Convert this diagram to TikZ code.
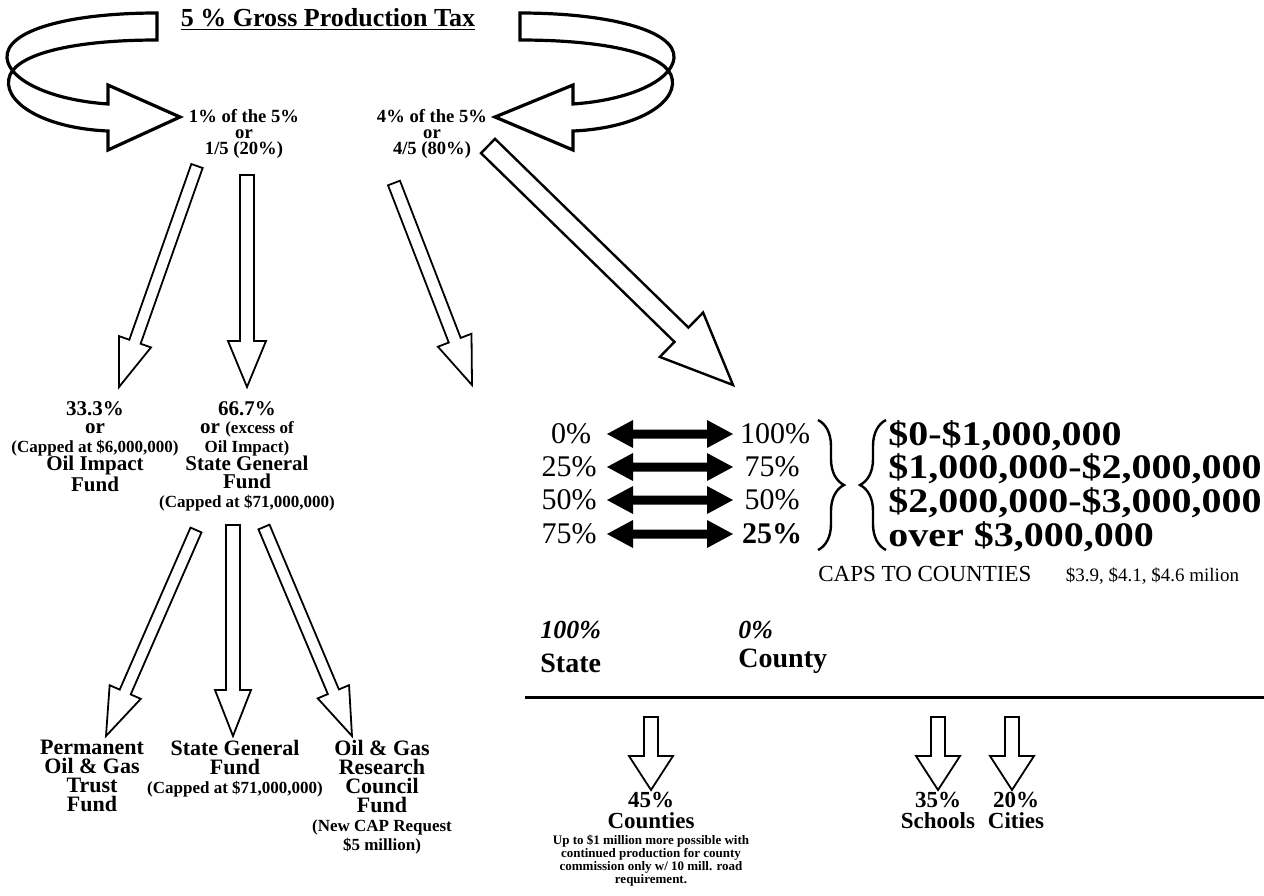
\documentclass[tikz,border=0pt]{standalone}
\usepackage{fontspec}
\usepackage{graphicx}
\setmainfont{Liberation Serif}
\usetikzlibrary{calc,decorations.pathreplacing}
\newcommand{\myfs}[2]{\fontsize{#1}{#2}\selectfont}
% #1 style, #2 start, #3 tip, #4 shaft half width, #5 head half width, #6 head length
\newcommand{\blockarrow}[6][]{%
  \coordinate (hb) at ($(#3)!#6!(#2)$);
  \draw[barrow,#1] ($(#2)!#4!90:(#3)$) -- ($(hb)!#4!90:(#3)$) -- ($(hb)!#5!90:(#3)$) -- (#3)
     -- ($(hb)!#5!-90:(#3)$) -- ($(hb)!#4!-90:(#3)$) -- ($(#2)!#4!-90:(#3)$) -- cycle;}
\newcommand{\dblarrow}[2]{%
  \fill ($(#1)$) -- ($(#1)+(26,-14)$) -- ($(#1)+(26,-4.5)$) -- ($(#2)+(-26,-4.5)$) -- ($(#2)+(-26,-14)$)
   -- ($(#2)$) -- ($(#2)+(-26,14)$) -- ($(#2)+(-26,4.5)$) -- ($(#1)+(26,4.5)$) -- ($(#1)+(26,14)$) -- cycle;}
\tikzset{
  txt/.style={inner sep=0pt, align=center},
  barrow/.style={draw, line width=0.9pt, fill=white, line join=miter},
  ribbon/.style={draw, line width=1.6pt, line join=miter, fill=white},
  pct/.style={inner sep=0pt, font=\myfs{15}{15}},
  dol/.style={inner sep=0pt, anchor=west, font=\bfseries\myfs{20}{20}},
  brc/.style={decorate, line width=1.2pt},
}
\begin{document}
\begin{tikzpicture}[x=0.5pt, y=-0.5pt]
\useasboundingbox (0,0) rectangle (1264,895);

% title and curved ribbons
\node[txt, anchor=north, font=\bfseries\myfs{13}{14}] (title) at (328,8) {\underline{5 \% Gross Production Tax}};
\draw[ribbon] (157,13) .. controls (70,13) and (5,30) .. (7,58) .. controls (9,80) and (50,100) .. (108,104)
  -- (108,85) -- (180,117) -- (108,150) -- (108,131)
  .. controls (40,128) and (0,100) .. (10,75) .. controls (20,52) and (80,40) .. (157,40) -- cycle;
\draw[ribbon] (520,13) .. controls (607,13) and (676,30) .. (674,58) .. controls (672,80) and (631,100) .. (573,104)
  -- (573,85) -- (495,117) -- (573,150) -- (573,131)
  .. controls (641,128) and (681,100) .. (671,75) .. controls (661,52) and (600,40) .. (520,40) -- cycle;

\node[txt, anchor=north, font=\bfseries\myfs{9.3}{8}] (one) at (244,109) {1\% of the 5\%\\or\\1/5 (20\%)};
\node[txt, anchor=north, font=\bfseries\myfs{9.3}{8}] (four) at (432,109) {4\% of the 5\%\\or\\4/5 (80\%)};

% first level arrows
\coordinate (a1s) at (197,166); \coordinate (a1t) at (119,387);
\coordinate (a2s) at (247,175); \coordinate (a2t) at (247,387);
\coordinate (a3s) at (394,183); \coordinate (a3t) at (472,385);
\coordinate (a4s) at (488,146); \coordinate (a4t) at (733,385);
\blockarrow{a1s}{a1t}{3pt}{8.5pt}{24pt}
\blockarrow{a2s}{a2t}{3.5pt}{9.5pt}{23pt}
\blockarrow{a3s}{a3t}{3.2pt}{9pt}{24pt}
\blockarrow[line width=1.2pt]{a4s}{a4t}{5pt}{15.5pt}{36pt}

\node[txt, anchor=north, font=\bfseries\myfs{10.5}{9.2}] (oi) at (95,401)
  {33.3\%\\or\\{\myfs{8.5}{9.2}(Capped at \$6,000,000)}\\Oil Impact\\Fund};
\node[txt, anchor=north, font=\bfseries\myfs{10.5}{9.2}] (sgf) at (247,401)
  {66.7\%\\or {\myfs{8.5}{9.2}(excess of}\\{\myfs{8.5}{9.2}Oil Impact)}\\State General\\Fund\\{\myfs{8.5}{9.2}(Capped at \$71,000,000)}};

% second level arrows
\coordinate (b1s) at (196,530); \coordinate (b1t) at (106,736);
\coordinate (b2s) at (233,525); \coordinate (b2t) at (233,736);
\coordinate (b3s) at (264,527); \coordinate (b3t) at (352,736);
\blockarrow{b1s}{b1t}{3pt}{8.5pt}{24pt}
\blockarrow{b2s}{b2t}{3.5pt}{9pt}{23pt}
\blockarrow{b3s}{b3t}{3pt}{8.5pt}{24pt}

\node[txt, anchor=north, font=\bfseries\myfs{11}{9.5}] (perm) at (92,740) {Permanent\\Oil \& Gas\\Trust\\Fund};
\node[txt, anchor=north, font=\bfseries\myfs{11}{9.5}] (sgf2) at (235,740) {State General\\Fund\\{\myfs{8.5}{9.5}(Capped at \$71,000,000)}};
\node[txt, anchor=north, font=\bfseries\myfs{11}{9.5}] (ogr) at (382,740) {Oil \& Gas\\Research\\Council\\Fund\\{\myfs{8.5}{9.5}(New CAP Request}\\{\myfs{8.5}{9.5}\$5 million)}};

% state / county split
\node[pct] (l0) at (571,434) {0\%};
\node[pct] (l1) at (569,467) {25\%};
\node[pct] (l2) at (569,500) {50\%};
\node[pct] (l3) at (569,534) {75\%};
\node[pct] (r0) at (775,434) {100\%};
\node[pct] (r1) at (772,467) {75\%};
\node[pct] (r2) at (772,500) {50\%};
\node[pct, font=\bfseries\myfs{15}{15}] (r3) at (772,534) {25\%};
\foreach \i/\y in {0/434,1/467,2/500,3/534}{
  \coordinate (da\i) at (607,\y); \coordinate (db\i) at (733,\y);
  \dblarrow{da\i}{db\i}
}
\coordinate (br1) at (818,420); \coordinate (br2) at (818,550);
\draw[brc, decoration={brace, amplitude=13pt}] (br1) -- (br2);
\coordinate (bl1) at (886,550); \coordinate (bl2) at (886,420);
\draw[brc, decoration={brace, amplitude=13pt}] (bl1) -- (bl2);

\node[dol] (d0) at (888,436) {\scalebox{1}[0.86]{\$0-\$1,000,000}};
\node[dol] (d1) at (888,469) {\scalebox{1}[0.86]{\$1,000,000-\$2,000,000}};
\node[dol] (d2) at (888,503) {\scalebox{1}[0.86]{\$2,000,000-\$3,000,000}};
\node[dol] (d3) at (888,537) {\scalebox{1}[0.86]{over \$3,000,000}};

\node[inner sep=0pt, anchor=west, font=\myfs{11.5}{12}] (caps) at (818,575)
  {CAPS TO COUNTIES\hspace{1.5em}{\myfs{9.5}{10}\$3.9, \$4.1, \$4.6 milion}};

\node[inner sep=0pt, anchor=west, font=\bfseries\itshape\myfs{13}{13}] (p100) at (540,630) {100\%};
\node[inner sep=0pt, anchor=west, font=\bfseries\myfs{14}{14}] (st) at (540,663) {State};
\node[inner sep=0pt, anchor=west, font=\bfseries\itshape\myfs{13}{13}] (p0) at (738,630) {0\%};
\node[inner sep=0pt, anchor=west, font=\bfseries\myfs{14}{14}] (cty) at (738,661) {County};

\coordinate (hl1) at (525,697); \coordinate (hl2) at (1264,697);
\draw[line width=1.5pt] (hl1) -- (hl2);

% county distribution
\coordinate (c1s) at (651,717); \coordinate (c1t) at (651,790);
\coordinate (c2s) at (938,717); \coordinate (c2t) at (938,790);
\coordinate (c3s) at (1012,717); \coordinate (c3t) at (1012,790);
\blockarrow{c1s}{c1t}{3.5pt}{11pt}{17pt}
\blockarrow{c2s}{c2t}{3.5pt}{11pt}{17pt}
\blockarrow{c3s}{c3t}{3.5pt}{11pt}{17pt}

\node[txt, anchor=north, font=\bfseries\myfs{11.5}{10.5}] (cnt) at (651,792) {45\%\\Counties};
\node[txt, anchor=north, font=\bfseries\myfs{6.5}{6.5}] (note) at (651,835)
  {Up to \$1 million more possible with\\continued production for county\\commission only w/ 10 mill. road\\requirement.};
\node[txt, anchor=north, font=\bfseries\myfs{11.5}{10.5}] (sch) at (938,792) {35\%\\Schools};
\node[txt, anchor=north, font=\bfseries\myfs{11.5}{10.5}] (cit) at (1016,792) {20\%\\Cities};
\end{tikzpicture}
\end{document}
